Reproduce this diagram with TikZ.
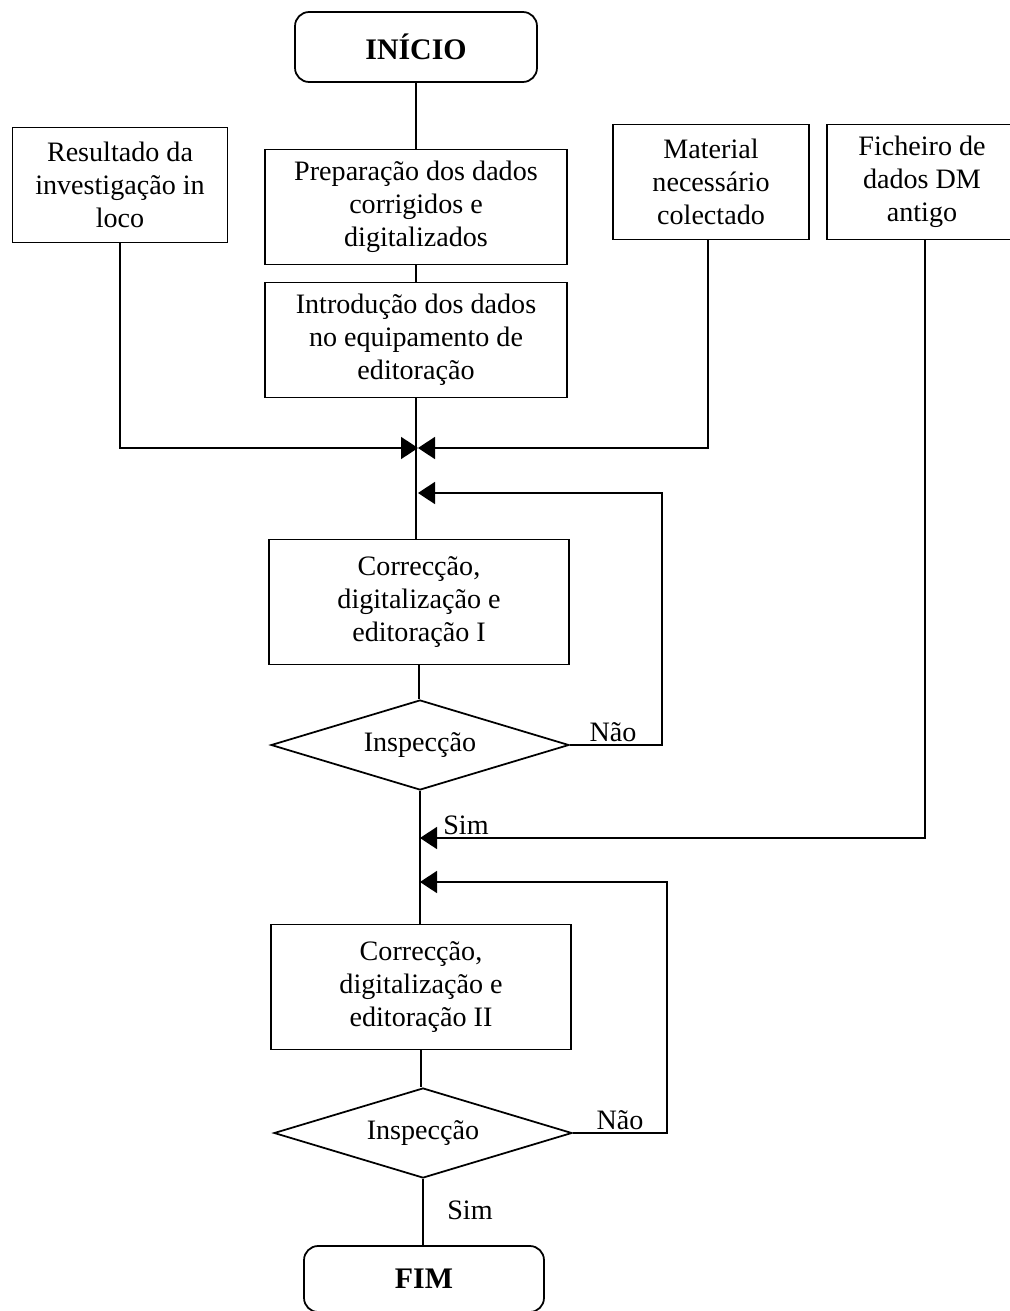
\documentclass[tikz,border=0pt]{standalone}
\usepackage{fontspec}
\setmainfont{Liberation Serif}
\usetikzlibrary{shapes.geometric,arrows.meta}
\begin{document}
\begin{tikzpicture}[x=0.02cm,y=-0.02cm,
  every node/.style={font=\fontsize{16}{18.7}\selectfont},
  box/.style={draw,line width=1pt,align=center,inner sep=0pt},
  term/.style={box,rounded corners=8pt,font=\fontsize{17}{20}\selectfont\bfseries},
  decision/.style={draw,line width=1pt,diamond,aspect=3.3,inner sep=0pt,
    minimum width=5.96cm,minimum height=1.8cm},
  flow/.style={line width=1pt},
  arr/.style={flow,-{Triangle[length=0.34cm,width=0.44cm]}},
  lbl/.style={inner sep=0pt}
]
\useasboundingbox (0,0) rectangle (1009,1311);

% terminals
\node[term,minimum width=4.84cm,minimum height=1.4cm] (inicio) at (416,47) {INÍCIO};
\node[term,minimum width=4.8cm,minimum height=1.32cm] (fim) at (424,1279) {FIM};

% process boxes of the main column
\node[box,minimum width=6.04cm,minimum height=2.3cm] (prep) at (416,207)
  {Preparação dos dados\\corrigidos e\\digitalizados};
\node[box,minimum width=6.04cm,minimum height=2.3cm] (intro) at (416,340)
  {Introdução dos dados\\no equipamento de\\editoração};
\node[box,minimum width=6cm,minimum height=2.5cm] (cor1) at (419,602)
  {Correcção,\\digitalização e\\editoração I};
\node[box,minimum width=6cm,minimum height=2.5cm] (cor2) at (421,987)
  {Correcção,\\digitalização e\\editoração II};

% side inputs
\node[box,minimum width=4.3cm,minimum height=2.3cm] (res) at (120,185)
  {Resultado da\\investigação in\\loco};
\node[box,minimum width=3.92cm,minimum height=2.3cm] (mat) at (711,182)
  {Material\\necessário\\colectado};
\node[box,minimum width=3.8cm,minimum height=2.3cm] (fich) at (922,182)
  {Ficheiro de\\dados DM\\antigo};

% decisions
\node[decision] (d1) at (420,745) {Inspecção};
\node[decision] (d2) at (423,1133) {Inspecção};

% junction points on the main line
\coordinate (m1) at (418,448);
\coordinate (m2) at (418,493);
\coordinate (m3) at (420,838);
\coordinate (m4) at (420,882);
\coordinate (r1) at (662,745);
\coordinate (r2) at (667,1133);

% main column
\draw[flow] (inicio.south) -- (inicio.south |- prep.north);
\draw[flow] (prep.south) -- (prep.south |- intro.north);
\draw[flow] (intro.south) -- (intro.south |- cor1.north);
\draw[flow] (cor1.south) -- (cor1.south |- d1.north);
\draw[flow] (d1.south) -- (d1.south |- cor2.north);
\draw[flow] (cor2.south) -- (cor2.south |- d2.north);
\draw[flow] (d2.south) -- (d2.south |- fim.north);

% inputs merging into the main column
\draw[arr] (res.south) |- (m1);
\draw[arr] (mat.south -| 708,0) |- (m1);
\draw[arr] (fich.south -| 925,0) |- (m3);

% inspection loops
\draw[arr] (d1.east) -- (r1) |- (m2);
\draw[arr] (d2.east) -- (r2) |- (m4);

% branch labels
\node[lbl] (nao1) at (613,732) {Não};
\node[lbl] (sim1) at (466,825) {Sim};
\node[lbl] (nao2) at (620,1120) {Não};
\node[lbl] (sim2) at (470,1210) {Sim};
\end{tikzpicture}
\end{document}
